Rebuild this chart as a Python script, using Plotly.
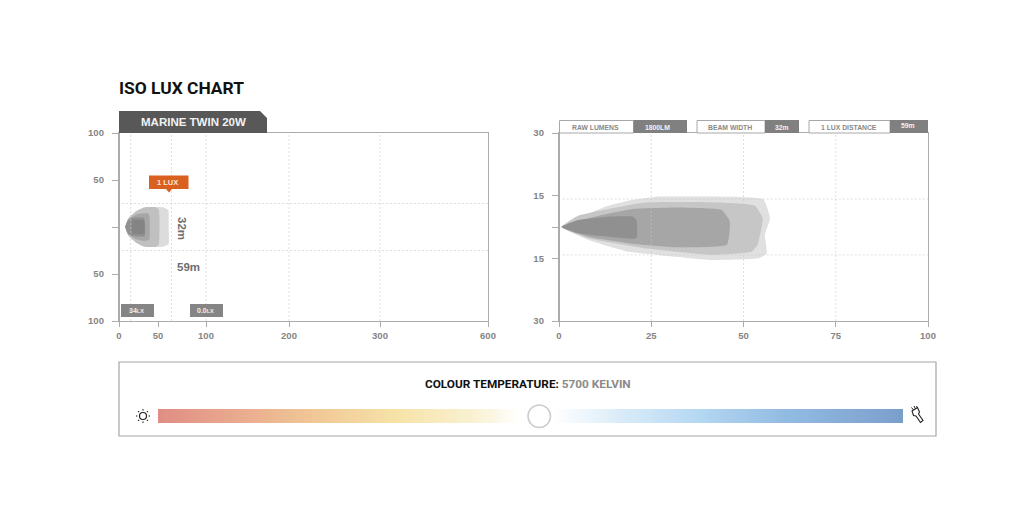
import math
import numpy as np
import plotly.graph_objects as go

TITLE = "ISO LUX CHART"
PRODUCT = "MARINE TWIN 20W"

# Left chart: x scale is piecewise on the printed labels
left_x_ticks = [0, 50, 100, 200, 300, 600]
left_x_pos = [0, 39, 87, 170, 261, 369]
left_x_grid = [15, 64, 100, 200, 300]
left_y_ticks = [100, 50, 0, -50, -100]
left_y_text = ["100", "50", "", "50", "100"]
left_y_grid = [25, -25]

left_zone_colors = ["#dcdcdc", "#c0c0c0", "#a6a6a6", "#909090", "#848484"]
left_z1_x = [8.1, 11.9, 22.7, 33.3, 55.2, 60.7, 61.1, 61.1, 55.2, 33.3, 22.7, 11.9]
left_z1_y = [0, 9.3, 17.3, 21, 21, 18, 0, -18, -21, -21, -17.3, -8.5]
left_z2_x = [8.1, 11.9, 22.7, 33, 48, 51, 51, 48, 33, 22.7, 11.9]
left_z2_y = [0, 9, 17, 21, 21, 18, -18, -21, -21, -17, -9]
left_z3_x = [8.1, 12, 22, 30, 37, 39, 39, 36, 30, 22, 12]
left_z3_y = [0, 8, 13, 14.5, 14.5, 12, -13, -14.5, -14.5, -13, -8]
left_z4_x = [8.1, 11, 16, 32, 33, 16, 11]
left_z4_y = [0, 6, 9.5, 9.5, -9.5, -9.5, -6]
left_z5_x = [17, 32, 32, 17]
left_z5_y = [7, 7, -7, -7]

# Right chart: y scale is piecewise on the printed labels
right_x_ticks = [0, 25, 50, 75, 100]
right_y_ticks = [30, 15, 0, -15, -30]
right_y_pos = [30, 10, 0, -10, -30]
right_y_text = ["30", "15", "", "15", "30"]
right_y_grid = [13.35, -13.35]
right_zone_colors = ["#e0e0e0", "#c6c6c6", "#a6a6a6", "#909090"]
right_z1_x = [0.7, 5.2, 12.5, 18.8, 26.9, 41.4, 55.4, 57.2, 55.8, 56.3, 54, 41.4, 26.9, 18.8, 8]
right_z1_y = [0, 4.2, 9.75, 12.6, 14.55, 14.55, 13.2, 4.2, -3.75, -12.6, -15, -15.4, -13.35, -11.85, -6.2]
right_z2_x = [0.7, 5.2, 13.4, 23.3, 41.4, 53.1, 55.2, 53.8, 52.2, 41.4, 23.3, 8]
right_z2_y = [0, 5.4, 8.6, 11.7, 11.85, 10.2, 4.2, -8.55, -11.85, -13.35, -10.2, -5.4]
right_z3_x = [0.7, 8, 20.1, 32.3, 44.1, 46.3, 45.5, 32.3, 21, 8]
right_z3_y = [0, 4.2, 8.6, 9.3, 8.1, 2.55, -8.55, -9.75, -8.25, -4.65]
right_z4_x = [0.7, 5.2, 13.4, 20.1, 21, 21, 13.4, 5.2]
right_z4_y = [0, 3.3, 4.95, 4.95, 3.3, -5.4, -4.65, -3]

# Colour temperature bar
bar_stops = [0, 0.07, 0.20, 0.32, 0.43, 0.485, 0.53, 0.62, 0.73, 0.84, 1]
bar_colors = ["#e08e85", "#e6a08b", "#f0c595", "#f6e3a8", "#f9f2d5", "#ffffff",
              "#ffffff", "#daecf8", "#b4d7f2", "#93bce3", "#7b9fcb"]
bar_levels = [i / 199 for i in range(200)]

GREY = "#858585"
AXIS = "#ababab"
GRID = "rgba(200,200,200,0.6)"
SANS = "Liberation Sans"


def lmap(v):
    return np.interp(v, left_x_ticks, left_x_pos).tolist()


def rmap(v):
    return np.interp(v, right_y_ticks[::-1], right_y_pos[::-1]).tolist()


fig = go.Figure()

for xs, ys, col in zip([left_z1_x, left_z2_x, left_z3_x, left_z4_x, left_z5_x],
                       [left_z1_y, left_z2_y, left_z3_y, left_z4_y, left_z5_y], left_zone_colors):
    fig.add_trace(go.Scatter(x=lmap(xs) + lmap(xs[:1]), y=ys + ys[:1], fill="toself", fillcolor=col,
                             mode="lines", line=dict(width=0, shape="spline", smoothing=0.4),
                             hoverinfo="skip", showlegend=False, xaxis="x", yaxis="y"))

for xs, ys, col in zip([right_z1_x, right_z2_x, right_z3_x, right_z4_x],
                       [right_z1_y, right_z2_y, right_z3_y, right_z4_y], right_zone_colors):
    fig.add_trace(go.Scatter(x=xs + xs[:1], y=rmap(ys + ys[:1]), fill="toself", fillcolor=col,
                             mode="lines", line=dict(width=0, shape="spline", smoothing=0.4),
                             hoverinfo="skip", showlegend=False, xaxis="x2", yaxis="y2"))

cell = 745 / len(bar_levels)
fig.add_trace(go.Heatmap(z=[bar_levels], x0=158 + cell / 2, dx=cell, y0=416, dy=14, zmin=0, zmax=1,
                         colorscale=[[s, c] for s, c in zip(bar_stops, bar_colors)],
                         showscale=False, hoverinfo="skip", xaxis="x3", yaxis="y3"))

shapes = []
annots = []


def rect(x0, y0, x1, y1, fill, line=None, lw=1):
    shapes.append(dict(type="rect", xref="x3", yref="y3", x0=x0, y0=y0, x1=x1, y1=y1, fillcolor=fill,
                       line=dict(color=line or fill, width=lw if line else 0), layer="above"))


def path(d, fill="rgba(0,0,0,0)", line=None, lw=1):
    shapes.append(dict(type="path", xref="x3", yref="y3", path=d, fillcolor=fill,
                       line=dict(color=line or fill, width=lw if line else 0), layer="above"))


def text(x, y, s, size, color, family=SANS, anchor="center", angle=0):
    annots.append(dict(xref="x3", yref="y3", x=x, y=y, text=s, showarrow=False, textangle=angle,
                       xanchor=anchor, yanchor="middle", font=dict(size=size, color=color, family=family)))


dash = dict(color=GRID, width=1, dash="2px,2px")
# grid, in data coordinates
for v in left_x_grid:
    p = lmap([v])[0]
    shapes.append(dict(type="line", xref="x", yref="y", x0=p, x1=p, y0=-100, y1=100, layer="above", line=dash))
for v in left_y_grid:
    shapes.append(dict(type="line", xref="x", yref="y", x0=3, x1=369, y0=v, y1=v, layer="above", line=dash))
for v in right_x_ticks[1:-1]:
    shapes.append(dict(type="line", xref="x2", yref="y2", x0=v, x1=v, y0=-30, y1=30, layer="above", line=dash))
for v in rmap(right_y_grid):
    shapes.append(dict(type="line", xref="x2", yref="y2", x0=1, x1=100, y0=v, y1=v, layer="above", line=dash))
# heavier left spines
for xr, yr, y0, y1 in [("x", "y", -100, 100), ("x2", "y2", -30, 30)]:
    shapes.append(dict(type="line", xref=xr, yref=yr, x0=0, x1=0, y0=y0, y1=y1, layer="above",
                       line=dict(color=AXIS, width=2)))

# headers
text(117, 88, f"<b>{TITLE}</b>", 17.4, "#111111", "Roboto", "left")
path("M119,111 L260,111 L267,118 L267,133 L119,133 Z", "#585858")
text(193.5, 122, f"<b>{PRODUCT}</b>", 11.5, "#f2f2f2")

# stat boxes
stat_boxes = [(559.5, 633.5, 687, "RAW LUMENS", "1800LM", 657.5, 127),
              (697, 765, 799, "BEAM WIDTH", "32m", 782, 127),
              (809, 890, 928, "1 LUX DISTANCE", "59m", 908, 125.5)]
for a, b, c, lab, val, vx, vy in stat_boxes:
    rect(a, 120.5, b, 133, "#ffffff", "#a8a8a8", 1)
    rect(b, 120, c, 133, "#808080")
    text((a + b) / 2 - 1, 127, f"<b>{lab}</b>", 6.8, "#888888")
    text(vx, vy, f"<b>{val}</b>", 6.8, "#f4f4f4")

# left annotations
rect(149, 175.5, 188.5, 189, "#d9601f")
path("M166,189 L172,189 L169,192.5 Z", "#d9601f")
text(167, 182, "<b>1 LUX</b>", 7.5, "#fbe6d8")
text(182, 228, "<b>32m</b>", 11.5, "#6e6e6e", angle=90)
text(188, 267, "<b>59m</b>", 11.5, "#6e6e6e")
rect(121, 304, 154, 317, "#858585")
rect(190, 304, 223, 317, "#858585")
text(136, 310.5, '<b>34<span style="font-size:5.5px">LX</span></b>', 7, "#f0f0f0")
text(205, 310.5, '<b>0.0<span style="font-size:5.5px">LX</span></b>', 7, "#f0f0f0")

# colour temperature panel
rect(119, 362, 936, 436, "rgba(0,0,0,0)", "#a6a6a6", 1.2)
text(527.5, 384, '<b>COLOUR TEMPERATURE:</b> <b><span style="color:#8a8a8a">5700 KELVIN</span></b>',
     11.8, "#111111", "Roboto")
shapes.append(dict(type="circle", xref="x3", yref="y3", x0=528, y0=405, x1=550.5, y1=427.5, layer="above",
                   fillcolor="#ffffff", line=dict(color="#cccccc", width=1.5)))
# sun icon
shapes.append(dict(type="circle", xref="x3", yref="y3", x0=139.5, y0=412.5, x1=146.5, y1=419.5, layer="above",
                   fillcolor="#ffffff", line=dict(color="#222222", width=1.2)))
for k in range(8):
    a = k * math.pi / 4
    shapes.append(dict(type="line", xref="x3", yref="y3", layer="above",
                       x0=143 + 5.5 * math.cos(a), y0=416 + 5.5 * math.sin(a),
                       x1=143 + 7 * math.cos(a), y1=416 + 7 * math.sin(a),
                       line=dict(color="#222222", width=1.1)))
# torch icon
path("M912,411 L917.5,407.5 L919.5,412 L918.5,414 L923,420.5 L920.5,422.5 L916,416 L913.5,415.5 Z",
     "#ffffff", "#222222", 1.1)
path("M911.5,407.5 L913.5,410 M914,406 L915.5,409 M916.5,406 L917.5,408", "rgba(0,0,0,0)", "#222222", 1)

axis_common = dict(showline=True, mirror=True, linecolor=AXIS, linewidth=1.3, ticks="outside",
                   tickcolor=AXIS, tickwidth=1, showgrid=False, zeroline=False, automargin=False,
                   tickfont=dict(family=SANS, size=9.5, color=GREY, weight="bold"))
dom_x1 = [119 / 1024, 488 / 1024]
dom_x2 = [559 / 1024, 928 / 1024]
dom_y = [(512 - 321) / 512, (512 - 133) / 512]

fig.update_layout(
    width=1024, height=512, margin=dict(l=0, r=0, t=0, b=0, pad=0), paper_bgcolor="#ffffff",
    plot_bgcolor="rgba(0,0,0,0)", showlegend=False, hovermode=False, shapes=shapes, annotations=annots,
    xaxis=dict(domain=dom_x1, range=[0, 369], tickmode="array", tickvals=left_x_pos, ticklen=5,
               ticktext=[str(v) for v in left_x_ticks], anchor="y", ticklabelstandoff=0, **axis_common),
    yaxis=dict(domain=dom_y, range=[-100, 100], tickmode="array", tickvals=left_y_ticks, ticklen=6,
               ticktext=left_y_text, anchor="x", ticklabelstandoff=6, **axis_common),
    xaxis2=dict(domain=dom_x2, range=[0, 100], tickmode="array", tickvals=right_x_ticks, ticklen=5,
                ticktext=[str(v) for v in right_x_ticks], anchor="y2", ticklabelstandoff=0, **axis_common),
    yaxis2=dict(domain=dom_y, range=[-30, 30], tickmode="array", tickvals=right_y_pos, ticklen=6,
                ticktext=right_y_text, anchor="x2", ticklabelstandoff=6, **axis_common),
    xaxis3=dict(domain=[0, 1], range=[0, 1024], visible=False, anchor="y3", fixedrange=True, automargin=False),
    yaxis3=dict(domain=[0, 1], range=[512, 0], visible=False, anchor="x3", fixedrange=True, automargin=False),
)

fig.write_html("out.html", config={"displayModeBar": False},
               post_script="document.body.style.margin='0';document.body.style.overflow='hidden';")
